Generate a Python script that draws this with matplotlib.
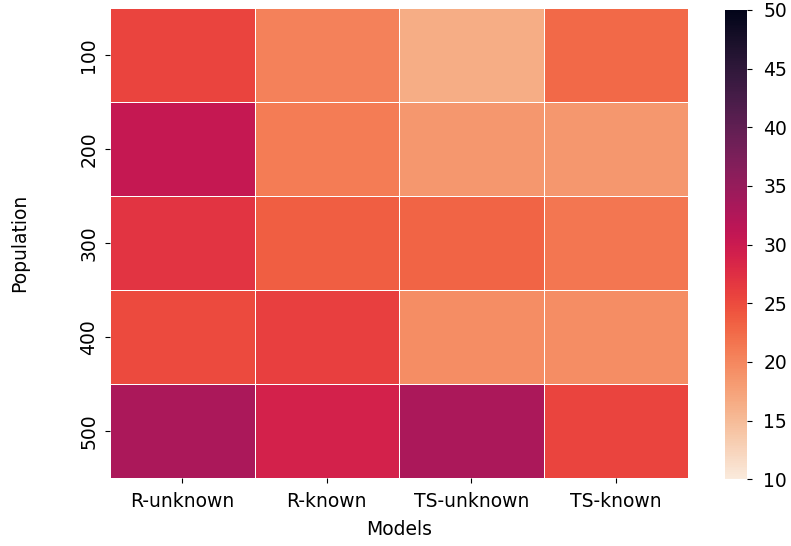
import matplotlib
matplotlib.use("Agg")
import matplotlib.pyplot as plt
import numpy as np
import pandas as pd
import seaborn as sns

models = ["R-unknown", "R-known", "TS-unknown", "TS-known"]
population = [100, 200, 300, 400, 500]
r_unknown = [25.5, 30.5, 27.0, 25.0, 33.0]
r_known = [20.5, 21.0, 23.5, 26.0, 29.0]
ts_unknown = [16.5, 18.5, 23.0, 19.5, 33.0]
ts_known = [22.5, 18.5, 21.5, 19.5, 25.5]

df = pd.DataFrame(
    {"R-unknown": r_unknown, "R-known": r_known,
     "TS-unknown": ts_unknown, "TS-known": ts_known},
    index=population,
)[models]

plt.rcParams["font.size"] = 13.5
fig = plt.figure(figsize=(7.91, 5.46), dpi=100)
ax = fig.add_axes([0.139, 0.125, 0.731, 0.86])
cax = fig.add_axes([0.917, 0.122, 0.028, 0.86])
sns.heatmap(df, cmap="rocket_r", vmin=10, vmax=50, linewidths=0.5,
            linecolor="white", ax=ax, cbar_ax=cax)
ax.set_xlabel("Models", labelpad=6)
ax.set_ylabel("Population", labelpad=36)
ax.tick_params(axis="x", pad=7)
ax.tick_params(axis="y", pad=5)
cax.tick_params(labelsize=13.5, pad=8)

fig.savefig("out.png", dpi=100)
plt.close(fig)
